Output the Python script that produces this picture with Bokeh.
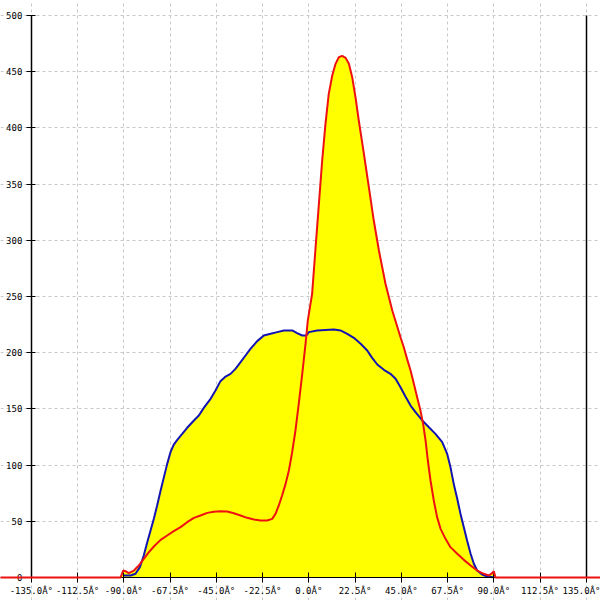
from bokeh.plotting import figure
from bokeh.models import LinearAxis, FixedTicker, Grid, Range1d
from bokeh.embed import file_html
from bokeh.resources import INLINE

# ---- data ----
x_ticks = [-135.0, -112.5, -90.0, -67.5, -45.0, -22.5, 0.0, 22.5, 45.0, 67.5, 90.0, 112.5, 135.0]
x_labels = ["-135.0Â°", "-112.5Â°", "-90.0Â°", "-67.5Â°", "-45.0Â°", "-22.5Â°", "0.0Â°",
            "22.5Â°", "45.0Â°", "67.5Â°", "90.0Â°", "112.5Â°", "135.0Â°"]
y_ticks = [0, 50, 100, 150, 200, 250, 300, 350, 400, 450, 500]

blue_x = [-90.0, -86.7, -84.3, -82.2, -80.3, -78.6, -77.0, -75.4, -73.8, -72.1, -70.5, -68.9,
          -67.3, -65.7, -64.0, -61.6, -59.2, -55.9, -53.5, -51.1, -47.8, -45.4, -43.0, -40.5,
          -38.1, -35.7, -33.2, -30.8, -28.4, -25.1, -21.9, -18.6, -15.4, -12.1, -8.1, -5.7,
          -3.2, -1.2, 0.0, 4.05, 8.1, 12.2, 15.4, 18.7, 21.9, 25.2, 28.4, 30.8, 33.3, 36.5,
          39.7, 42.2, 44.6, 47.0, 49.5, 51.9, 55.2, 58.4, 61.6, 64.9, 67.3, 68.9, 70.5, 72.2,
          73.8, 75.4, 77.0, 78.7, 80.3, 81.9, 84.3, 86.8, 89.7, 90.3]
blue_y = [1.8, 1.8, 3.3, 9.2, 19.6, 31.4, 41.8, 52.2, 64.1, 77.4, 89.3, 101.1,
          111.5, 118.3, 122.5, 127.8, 133.2, 139.7, 144.1, 150.9, 159.0, 166.4, 174.7, 178.8,
          181.2, 185.6, 191.6, 197.5, 203.4, 210.3, 215.3, 216.8, 218.3, 219.8, 219.8, 217.4,
          215.3, 215.3, 218.3, 219.8, 220.3, 220.6, 219.8, 216.8, 213.2, 207.9, 202.0, 195.4,
          189.5, 184.8, 181.2, 176.8, 169.3, 161.0, 153.0, 147.1, 139.7, 133.7, 127.8, 120.4,
          110.0, 98.2, 83.3, 70.0, 56.6, 44.8, 32.9, 21.1, 12.2, 6.2, 2.7, 0.9, 0.3, 0.0]

red_x = [-150.0, -91.6, -90.3, -89.2, -87.6, -85.1, -82.7, -80.3, -77.8, -75.4, -72.1, -68.9,
         -65.7, -62.4, -59.2, -55.9, -52.7, -49.4, -46.2, -43.0, -39.7, -36.5, -33.2, -30.0,
         -26.7, -23.5, -20.3, -17.8, -16.2, -14.6, -13.0, -11.3, -9.7, -8.1, -6.5, -4.9,
         -3.2, -1.6, -0.5, 1.6, 3.3, 4.9, 6.5, 8.1, 9.7, 11.4, 13.0, 14.6, 16.2, 17.9, 19.5,
         21.1, 22.7, 24.3, 26.8, 29.2, 31.6, 34.1, 37.3, 40.6, 44.6, 46.2, 47.8, 49.5, 51.1,
         52.7, 54.3, 55.6, 56.8, 57.9, 59.2, 60.8, 62.4, 64.1, 66.5, 68.9, 72.2, 75.4, 78.7,
         81.9, 85.1, 87.6, 89.2, 90.0, 90.8, 142.0]
red_y = [0.0, 0.0, 6.2, 5.6, 3.9, 6.2, 10.7, 16.6, 22.5, 27.6, 33.5, 37.4,
         41.2, 44.8, 49.2, 53.1, 55.2, 57.5, 58.4, 59.0, 58.7, 57.2, 55.2, 53.1,
         51.6, 50.7, 50.7, 52.2, 56.7, 64.1, 73.0, 83.3, 95.2, 111.5, 130.8, 154.5,
         181.2, 207.9, 228.6, 252.4, 293.9, 332.4, 371.0, 403.6, 430.3, 446.6, 457.0, 462.9,
         464.1, 462.3, 457.0, 445.1, 427.3, 406.6, 376.9, 347.3, 317.6, 290.9, 261.3, 237.5,
         213.8, 204.9, 194.5, 184.2, 172.3, 160.4, 148.6, 136.7, 121.9, 104.1, 86.3, 68.5,
         53.7, 43.3, 34.4, 27.0, 21.1, 15.7, 10.7, 6.2, 3.3, 1.8, 3.9, 5.6, 0.0, 0.0]

# ---- figure ----
p = figure(width=600, height=600, output_backend="svg", toolbar_location=None,
           x_range=Range1d(-150, 141.9), y_range=Range1d(-20.46, 513.35),
           x_axis_location=None, y_axis_location=None, min_border=0)
p.outline_line_color = None
p.background_fill_color = "white"
p.border_fill_color = "white"
p.xgrid.visible = False
p.ygrid.visible = False

xt = FixedTicker(ticks=x_ticks)
yt = FixedTicker(ticks=y_ticks)

gx = Grid(dimension=0, ticker=xt, grid_line_color="#c8c8c8", grid_line_dash="3 3",
          bounds=(0, 500))
gy = Grid(dimension=1, ticker=yt, grid_line_color="#c8c8c8", grid_line_dash="3 3",
          bounds=(-135, 135))
p.add_layout(gx)
p.add_layout(gy)

# fills
p.varea(x=red_x, y1=0, y2=red_y, fill_color="#ffff00")
p.varea(x=blue_x, y1=0, y2=blue_y, fill_color="#ffff00")

# lines
p.line(blue_x, blue_y, line_color="#1414b4", line_width=2)

# axes
xaxis = LinearAxis(ticker=xt, fixed_location=0,
                   major_label_overrides=dict(zip(x_ticks, x_labels)),
                   axis_line_color="black", major_tick_line_color="black",
                   major_tick_in=5, major_tick_out=5, minor_tick_line_color=None,
                   major_label_standoff=3,
                   major_label_text_font="DejaVu Sans Mono",
                   major_label_text_font_size="9px", major_label_text_color="black")
yaxis = LinearAxis(ticker=yt, fixed_location=-135, bounds=(0, 500),
                   axis_line_color="black", axis_line_width=1.5,
                   major_tick_line_color="black",
                   major_tick_in=4, major_tick_out=5, minor_tick_line_color=None,
                   major_label_standoff=4,
                   major_label_text_font="DejaVu Sans Mono",
                   major_label_text_font_size="9px", major_label_text_color="black")
raxis = LinearAxis(ticker=FixedTicker(ticks=[]), fixed_location=135, bounds=(0, 500),
                   axis_line_color="black", axis_line_width=1.5,
                   major_tick_line_color=None, minor_tick_line_color=None)
p.add_layout(xaxis, "below")
p.add_layout(yaxis, "left")
p.add_layout(raxis, "right")

# red line on top of the x axis line
p.line(red_x, red_y, line_color="#ee1111", line_width=2, level="overlay")

open("out.html", "w").write(file_html(p, INLINE))
